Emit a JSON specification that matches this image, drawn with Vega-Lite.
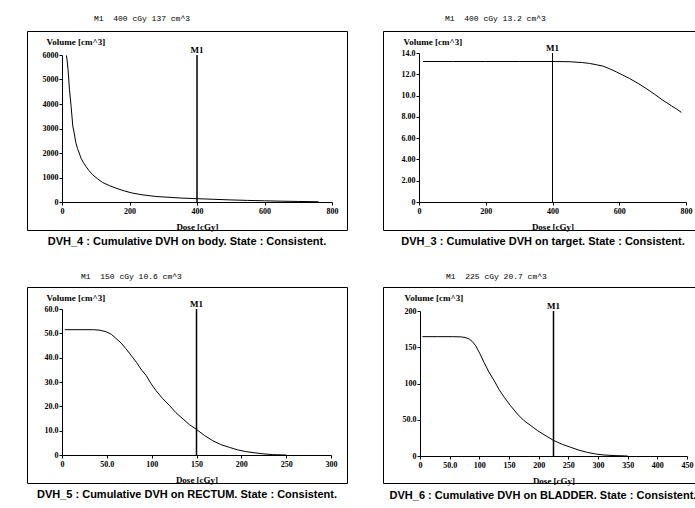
{
  "$schema": "https://vega.github.io/schema/vega-lite/v6.json",
  "background": "white",
  "padding": {"left": 26, "top": 14, "right": 0, "bottom": 0},
  "spacing": 25,
  "config": {
    "view": {"stroke": "black", "strokeWidth": 1},
    "concat": {"spacing": 34},
    "axis": {"grid": false, "domainColor": "black", "tickColor": "black", "labelColor": "black", "titleColor": "black",
      "labelFont": "Liberation Serif", "labelFontSize": 8, "labelFontWeight": "bold",
      "titleFont": "Liberation Serif", "titleFontSize": 9, "titleFontWeight": "bold",
      "tickSize": 3, "labelPadding": 2, "domainWidth": 1, "labelFlush": false, "labelOverlap": false,
      "labelExpr": "datum.value == 0 ? '0' : format(datum.value, '.3r')"},
    "axisY": {"titleAngle": 0, "titleAlign": "left", "titleBaseline": "middle", "titleX": -16, "titleY": 10, "labelPadding": 1},
    "axisX": {"titleY": 24, "titleBaseline": "middle"},
    "title": {"color": "black", "fontWeight": "normal"}
  },
  "vconcat": [
    {"hconcat": [
      {"title": {"text": "DVH_4 :  Cumulative DVH on body. State : Consistent.", "orient": "bottom", "anchor": "middle", "font": "Liberation Sans", "fontSize": 11, "fontWeight": "bold", "offset": 4},
       "vconcat": [{
        "width": 320, "height": 199,
        "title": {"text": "M1\u00a0\u00a0400 cGy 137 cm^3", "anchor": "start", "frame": "group", "dx": 67, "font": "Liberation Mono", "fontSize": 8, "offset": 8},
        "encoding": {
          "x": {"field": "dose", "type": "quantitative", "scale": {"domain": [0, 800], "range": [35, 305], "nice": false},
                "axis": {"values": [0, 200, 400, 600, 800], "offset": -28, "title": "Dose [cGy]"}},
          "y": {"field": "vol", "type": "quantitative", "scale": {"domain": [0, 6000], "range": [171, 24], "nice": false, "zero": false},
                "axis": {"values": [0, 1000, 2000, 3000, 4000, 5000, 6000], "offset": -35, "title": "Volume [cm^3]"}}},
        "layer": [
          {"data": {"values": [
            {"dose": 13, "vol": 5980}, {"dose": 15, "vol": 5800}, {"dose": 18, "vol": 5400}, {"dose": 22, "vol": 4600}, {"dose": 27, "vol": 3900},
            {"dose": 32, "vol": 3100}, {"dose": 36, "vol": 2820}, {"dose": 41, "vol": 2420}, {"dose": 46, "vol": 2180}, {"dose": 51, "vol": 2000},
            {"dose": 56, "vol": 1800}, {"dose": 63, "vol": 1620}, {"dose": 71, "vol": 1450}, {"dose": 80, "vol": 1280}, {"dose": 91, "vol": 1110},
            {"dose": 105, "vol": 950}, {"dose": 120, "vol": 800}, {"dose": 140, "vol": 670}, {"dose": 160, "vol": 565}, {"dose": 185, "vol": 450},
            {"dose": 210, "vol": 360}, {"dose": 240, "vol": 290}, {"dose": 278, "vol": 225}, {"dose": 320, "vol": 190}, {"dose": 357, "vol": 157},
            {"dose": 402, "vol": 135}, {"dose": 450, "vol": 110}, {"dose": 500, "vol": 85}, {"dose": 550, "vol": 65}, {"dose": 600, "vol": 48},
            {"dose": 650, "vol": 34}, {"dose": 700, "vol": 22}, {"dose": 760, "vol": 10}]},
           "mark": {"type": "line", "color": "black", "strokeWidth": 1}},
          {"data": {"values": [{"dose": 400, "vol": 0, "top": 6000}]},
           "mark": {"type": "rule", "color": "black", "strokeWidth": 1.5},
           "encoding": {"y2": {"field": "top"}}},
          {"data": {"values": [{"dose": 400, "vol": 6000, "label": "M1"}]},
           "mark": {"type": "text", "font": "Liberation Serif", "fontSize": 9, "fontWeight": "bold", "baseline": "bottom", "color": "black"},
           "encoding": {"text": {"field": "label"}}}
        ]}]},
      {"title": {"text": "DVH_3 :  Cumulative DVH on target. State : Consistent.", "orient": "bottom", "anchor": "middle", "font": "Liberation Sans", "fontSize": 11, "fontWeight": "bold", "offset": 4},
       "vconcat": [{
        "width": 320, "height": 199,
        "title": {"text": "M1\u00a0\u00a0400 cGy 13.2 cm^3", "anchor": "start", "frame": "group", "dx": 62, "font": "Liberation Mono", "fontSize": 8, "offset": 8},
        "encoding": {
          "x": {"field": "dose", "type": "quantitative", "scale": {"domain": [0, 800], "range": [36, 303], "nice": false},
                "axis": {"values": [0, 200, 400, 600, 800], "offset": -28, "title": "Dose [cGy]"}},
          "y": {"field": "vol", "type": "quantitative", "scale": {"domain": [0, 14], "range": [171, 22], "nice": false, "zero": false},
                "axis": {"values": [0, 2, 4, 6, 8, 10, 12, 14], "offset": -36, "title": "Volume [cm^3]"}}},
        "layer": [
          {"data": {"values": [
            {"dose": 12, "vol": 13.2}, {"dose": 100, "vol": 13.2}, {"dose": 200, "vol": 13.2}, {"dose": 300, "vol": 13.2}, {"dose": 400, "vol": 13.2},
            {"dose": 450, "vol": 13.18}, {"dose": 490, "vol": 13.1}, {"dose": 511, "vol": 13.02}, {"dose": 531, "vol": 12.9}, {"dose": 551, "vol": 12.77},
            {"dose": 571, "vol": 12.52}, {"dose": 591, "vol": 12.23}, {"dose": 611, "vol": 11.92}, {"dose": 631, "vol": 11.6}, {"dose": 656, "vol": 11.15},
            {"dose": 681, "vol": 10.66}, {"dose": 706, "vol": 10.12}, {"dose": 731, "vol": 9.55}, {"dose": 756, "vol": 9.05}, {"dose": 771, "vol": 8.75},
            {"dose": 786, "vol": 8.42}]},
           "mark": {"type": "line", "color": "black", "strokeWidth": 1}},
          {"data": {"values": [{"dose": 400, "vol": 0, "top": 14}]},
           "mark": {"type": "rule", "color": "black", "strokeWidth": 1},
           "encoding": {"y2": {"field": "top"}}},
          {"data": {"values": [{"dose": 400, "vol": 14, "label": "M1"}]},
           "mark": {"type": "text", "font": "Liberation Serif", "fontSize": 9, "fontWeight": "bold", "baseline": "bottom", "color": "black"},
           "encoding": {"text": {"field": "label"}}}
        ]}]}
    ]},
    {"hconcat": [
      {"title": {"text": "DVH_5 :  Cumulative DVH on RECTUM. State : Consistent.", "orient": "bottom", "anchor": "middle", "font": "Liberation Sans", "fontSize": 11, "fontWeight": "bold", "offset": 4},
       "vconcat": [{
        "width": 320, "height": 196,
        "title": {"text": "M1\u00a0\u00a0150 cGy 10.6 cm^3", "anchor": "start", "frame": "group", "dx": 54, "font": "Liberation Mono", "fontSize": 8, "offset": 6},
        "encoding": {
          "x": {"field": "dose", "type": "quantitative", "scale": {"domain": [0, 300], "range": [35, 304], "nice": false},
                "axis": {"values": [0, 50, 100, 150, 200, 250, 300], "offset": -28, "title": "Dose [cGy]"}},
          "y": {"field": "vol", "type": "quantitative", "scale": {"domain": [0, 60], "range": [168, 22], "nice": false, "zero": false},
                "axis": {"values": [0, 10, 20, 30, 40, 50, 60], "offset": -35, "title": "Volume [cm^3]"}}},
        "layer": [
          {"data": {"values": [
            {"dose": 3, "vol": 51.5}, {"dose": 20, "vol": 51.5}, {"dose": 35, "vol": 51.5}, {"dose": 42, "vol": 51.3}, {"dose": 49, "vol": 50.7},
            {"dose": 55, "vol": 49.6}, {"dose": 60, "vol": 48}, {"dose": 66, "vol": 46}, {"dose": 71, "vol": 43.8}, {"dose": 77, "vol": 41},
            {"dose": 83, "vol": 38.1}, {"dose": 88, "vol": 35.3}, {"dose": 94, "vol": 32.6}, {"dose": 99, "vol": 29.5}, {"dose": 105, "vol": 26.4},
            {"dose": 112, "vol": 23.3}, {"dose": 120, "vol": 20.3}, {"dose": 127, "vol": 17.4}, {"dose": 135, "vol": 14.8}, {"dose": 142, "vol": 12.5},
            {"dose": 150, "vol": 10.5}, {"dose": 159, "vol": 8.0}, {"dose": 168, "vol": 5.9}, {"dose": 177, "vol": 4.3}, {"dose": 187, "vol": 3.1},
            {"dose": 196, "vol": 2.1}, {"dose": 205, "vol": 1.4}, {"dose": 215, "vol": 0.9}, {"dose": 224, "vol": 0.5}, {"dose": 235, "vol": 0.15},
            {"dose": 250, "vol": 0}]},
           "mark": {"type": "line", "color": "black", "strokeWidth": 1}},
          {"data": {"values": [{"dose": 150, "vol": 0, "top": 60}]},
           "mark": {"type": "rule", "color": "black", "strokeWidth": 1.5},
           "encoding": {"y2": {"field": "top"}}},
          {"data": {"values": [{"dose": 150, "vol": 60, "label": "M1"}]},
           "mark": {"type": "text", "font": "Liberation Serif", "fontSize": 9, "fontWeight": "bold", "baseline": "bottom", "color": "black"},
           "encoding": {"text": {"field": "label"}}}
        ]}]},
      {"title": {"text": "DVH_6 :  Cumulative DVH on BLADDER. State : Consistent.", "orient": "bottom", "anchor": "middle", "font": "Liberation Sans", "fontSize": 11, "fontWeight": "bold", "offset": 4},
       "vconcat": [{
        "width": 320, "height": 196,
        "title": {"text": "M1\u00a0\u00a0225 cGy 20.7 cm^3", "anchor": "start", "frame": "group", "dx": 63, "font": "Liberation Mono", "fontSize": 8, "offset": 6},
        "encoding": {
          "x": {"field": "dose", "type": "quantitative", "scale": {"domain": [0, 450], "range": [37, 304], "nice": false},
                "axis": {"values": [0, 50, 100, 150, 200, 250, 300, 350, 400, 450], "offset": -27, "title": "Dose [cGy]"}},
          "y": {"field": "vol", "type": "quantitative", "scale": {"domain": [0, 200], "range": [169, 24], "nice": false, "zero": false},
                "axis": {"values": [0, 50, 100, 150, 200], "offset": -37, "title": "Volume [cm^3]"}}},
        "layer": [
          {"data": {"values": [
            {"dose": 4, "vol": 164.6}, {"dose": 30, "vol": 164.6}, {"dose": 55, "vol": 164.6}, {"dose": 69, "vol": 164.3}, {"dose": 76, "vol": 163.5},
            {"dose": 83, "vol": 161.4}, {"dose": 88, "vol": 158}, {"dose": 94, "vol": 152}, {"dose": 101, "vol": 141}, {"dose": 108, "vol": 129},
            {"dose": 116, "vol": 116}, {"dose": 125, "vol": 104}, {"dose": 133, "vol": 92}, {"dose": 142, "vol": 81}, {"dose": 152, "vol": 70},
            {"dose": 164, "vol": 58}, {"dose": 175, "vol": 49}, {"dose": 187, "vol": 41.8}, {"dose": 198, "vol": 35}, {"dose": 209, "vol": 29.4},
            {"dose": 225, "vol": 21.5}, {"dose": 240, "vol": 16}, {"dose": 254, "vol": 12}, {"dose": 268, "vol": 8}, {"dose": 282, "vol": 5},
            {"dose": 296, "vol": 2.8}, {"dose": 310, "vol": 1.4}, {"dose": 327, "vol": 0.6}, {"dose": 344, "vol": 0.2}, {"dose": 350, "vol": 0}]},
           "mark": {"type": "line", "color": "black", "strokeWidth": 1}},
          {"data": {"values": [{"dose": 225, "vol": 0, "top": 200}]},
           "mark": {"type": "rule", "color": "black", "strokeWidth": 1.5},
           "encoding": {"y2": {"field": "top"}}},
          {"data": {"values": [{"dose": 225, "vol": 200, "label": "M1"}]},
           "mark": {"type": "text", "font": "Liberation Serif", "fontSize": 9, "fontWeight": "bold", "baseline": "bottom", "color": "black"},
           "encoding": {"text": {"field": "label"}}}
        ]}]}
    ]}
  ]
}
